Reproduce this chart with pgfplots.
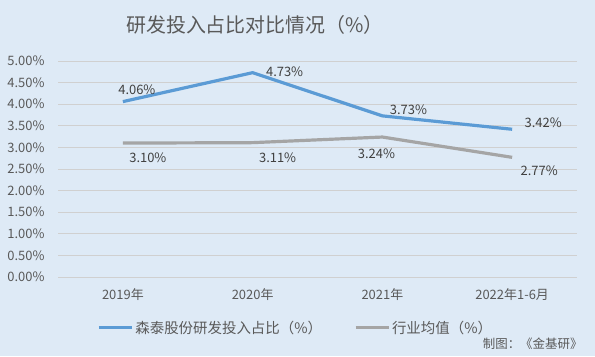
\documentclass[border=0pt]{standalone}
\usepackage{pgfplots}
\usepackage{pgfplotstable}
\pgfplotsset{compat=1.18}
\usepackage{fontspec}
\setmainfont{Noto Sans CJK SC}
\definecolor{bg}{HTML}{DEEAF6}
\definecolor{blueline}{HTML}{5B9BD5}
\definecolor{grayline}{HTML}{A5A5A5}
\definecolor{txt}{HTML}{595959}
\definecolor{lbl}{HTML}{404040}
\definecolor{gridc}{HTML}{D0D0D0}

\pgfplotstableread{
x y dx dy
0 4.06 14 12
1 4.73 32 1
2 3.73 26 6
3 3.42 31 7
}\company
\pgfplotstableread{
x y dx dy
0 3.10 25 -15
1 3.11 25 -15
2 3.24 -6 -17
3 2.77 27 -13
}\industry

\begin{document}
\begin{tikzpicture}[x=1bp,y=1bp]
\fill[bg] (0,0) rectangle (595,356);
\useasboundingbox (0,0) rectangle (595,356);
\node[text=txt,font=\fontsize{20}{24}\selectfont] at (255,331) {研发投入占比对比情况（\%）};
\node[text=txt,font=\fontsize{12.5}{14}\selectfont,anchor=east] at (586,12) {制图：《金基研》};
\begin{axis}[
  at={(58bp,79bp)}, anchor=south west,
  scale only axis, width=519bp, height=216bp,
  xmin=-0.5, xmax=3.5, ymin=0, ymax=5,
  xtick={0,1,2,3},
  xticklabels={2019年,2020年,2021年,2022年1-6月},
  ytick={0,0.5,...,5},
  yticklabel={\pgfmathprintnumber[fixed,fixed zerofill,precision=2]{\tick}\%},
  /pgf/number format/assume math mode=true,
  ymajorgrids, xmajorgrids=false, grid style={gridc, line width=0.8pt},
  axis line style={draw=none},
  major tick length=0pt,
  tick label style={text=txt,font=\fontsize{13}{15}\selectfont},
  xticklabel style={yshift=-8bp},
  yticklabel style={xshift=-10bp},
  legend style={at={(0.458,-0.236)}, anchor=center, draw=none, fill=none,
    legend columns=2, font=\fontsize{14.5}{17}\selectfont, text=txt,
    /tikz/every even column/.append style={column sep=30bp}},
  legend image code/.code={\draw[#1,line width=3pt] (0bp,0bp) -- (33bp,0bp);},
  nodes near coords={\pgfmathprintnumber[fixed,fixed zerofill,precision=2]{\pgfplotspointmeta}\%},
  every node near coord/.append style={text=lbl,font=\fontsize{13}{15}\selectfont,anchor=center},
]
\addplot[blueline, line width=3.2pt, mark=none,
  visualization depends on={\thisrow{dx}\as\dx},
  visualization depends on={\thisrow{dy}\as\dy},
  nodes near coords style={xshift=\dx bp, yshift=\dy bp}]
  table[x=x,y=y] {\company};
\addlegendentry{森泰股份研发投入占比（\%）}
\addplot[grayline, line width=3.2pt, mark=none,
  visualization depends on={\thisrow{dx}\as\dx},
  visualization depends on={\thisrow{dy}\as\dy},
  nodes near coords style={xshift=\dx bp, yshift=\dy bp}]
  table[x=x,y=y] {\industry};
\addlegendentry{行业均值（\%）}
\end{axis}
\end{tikzpicture}
\end{document}
